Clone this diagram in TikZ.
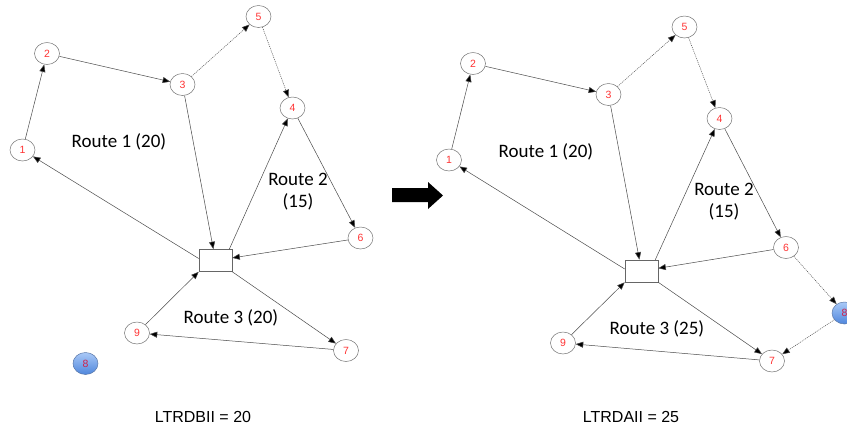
\documentclass[tikz,border=0pt]{standalone}
\usepackage{fontspec}
\setmainfont{Liberation Sans}
\newfontfamily\routefont{Carlito}
\usetikzlibrary{arrows.meta,shapes.geometric}

\definecolor{edgegray}{HTML}{4A4A4A}
\definecolor{nodered}{HTML}{FF3333}
\definecolor{spareTop}{HTML}{A9C9F7}
\definecolor{spareBot}{HTML}{4F86DC}
\definecolor{spareRim}{HTML}{5A78A8}
\definecolor{spareText}{HTML}{D0204A}

\begin{document}
\begin{tikzpicture}[x=1pt,y=-1pt,
  stop/.style={ellipse,draw=black!55,line width=0.5pt,fill=white,
    minimum width=25pt,minimum height=22pt,inner sep=0pt,
    text=nodered,font=\fontsize{10.5}{10.5}\selectfont},
  spare/.style={stop,draw=spareRim,top color=spareTop,bottom color=spareBot,
    text=spareText},
  depot/.style={rectangle,draw=black!60,line width=0.6pt,fill=white,
    minimum width=33pt,minimum height=22pt,inner sep=0pt},
  route/.style={-{Triangle[length=7.5pt,width=6pt,fill=black]},draw=edgegray,line width=0.5pt},
  detour/.style={route,dash pattern=on 1pt off 1pt},
  label/.style={font=\routefont\fontsize{19}{22}\selectfont,align=center},
  total/.style={font=\fontsize{16}{16}\selectfont}]

\useasboundingbox (0,0) rectangle (847,432);
\clip (0,0) rectangle (847,432);

% ---------- before insertion ----------
\node[stop] (a1) at (22.5,150) {1};
\node[stop] (a2) at (47,53.5) {2};
\node[stop] (a3) at (182.5,84.5) {3};
\node[stop] (a4) at (292.5,108) {4};
\node[stop] (a5) at (258.5,16.5) {5};
\node[stop] (a6) at (360.5,238) {6};
\node[stop] (a7) at (346,350.5) {7};
\node[spare] (a8) at (85.5,363.5) {8};
\node[stop] (a9) at (137,333) {9};
\node[depot] (ad) at (215.5,260.5) {};

\draw[route] (a1) -- (a2);
\draw[route] (a2) -- (a3);
\draw[route] (a3) -- (ad);
\draw[detour] (a3) -- (a5);
\draw[detour] (a5) -- (a4);
\draw[route] ([xshift=-3pt]ad.north east) -- (a4);
\draw[route] (a4) -- (a6);
\draw[route] (a6) -- (ad);
\draw[route] ([yshift=2pt]ad.west) -- (a1);
\draw[route] (ad.south east) -- (a7);
\draw[route] (a7) -- (a9);
\draw[route] (a9) -- (ad.south west);

\node[label] (ar1) at (119,142) {Route 1 (20)};
\node[label] (ar2) at (298,192) {Route 2\\(15)};
\node[label] (ar3) at (231,318) {Route 3 (20)};
\node[total] (atot) at (203,417) {LTRDBII = 20};

% ---------- transition arrow ----------
\fill[black] (392,188) -- (428,188) -- (428,182) -- (443,195.5)
  -- (428,209) -- (428,202) -- (392,202) -- cycle;

% ---------- after insertion ----------
\node[stop] (b1) at (449,160) {1};
\node[stop] (b2) at (473,63.5) {2};
\node[stop] (b3) at (608.5,94.5) {3};
\node[stop] (b4) at (719.5,118.5) {4};
\node[stop] (b5) at (684.5,27) {5};
\node[stop] (b6) at (786,247.5) {6};
\node[stop] (b7) at (772,361) {7};
\node[spare] (b8) at (844.5,313) {8};
\node[stop] (b9) at (563,343) {9};
\node[depot] (bd) at (641.5,271) {};

\draw[route] (b1) -- (b2);
\draw[route] (b2) -- (b3);
\draw[route] (b3) -- (bd);
\draw[detour] (b3) -- (b5);
\draw[detour] (b5) -- (b4);
\draw[route] ([xshift=-3pt]bd.north east) -- (b4);
\draw[route] (b4) -- (b6);
\draw[route] (b6) -- (bd);
\draw[route] ([yshift=2pt]bd.west) -- (b1);
\draw[detour] (b6) -- (b8);
\draw[detour] (b8) -- (b7);
\draw[route] (bd.south east) -- (b7);
\draw[route] (b7) -- (b9);
\draw[route] (b9) -- (bd.south west);

\node[label] (br1) at (546,152) {Route 1 (20)};
\node[label] (br2) at (724,202) {Route 2\\(15)};
\node[label] (br3) at (657,329) {Route 3 (25)};
\node[total] (btot) at (631,417) {LTRDAII = 25};

\end{tikzpicture}
\end{document}
